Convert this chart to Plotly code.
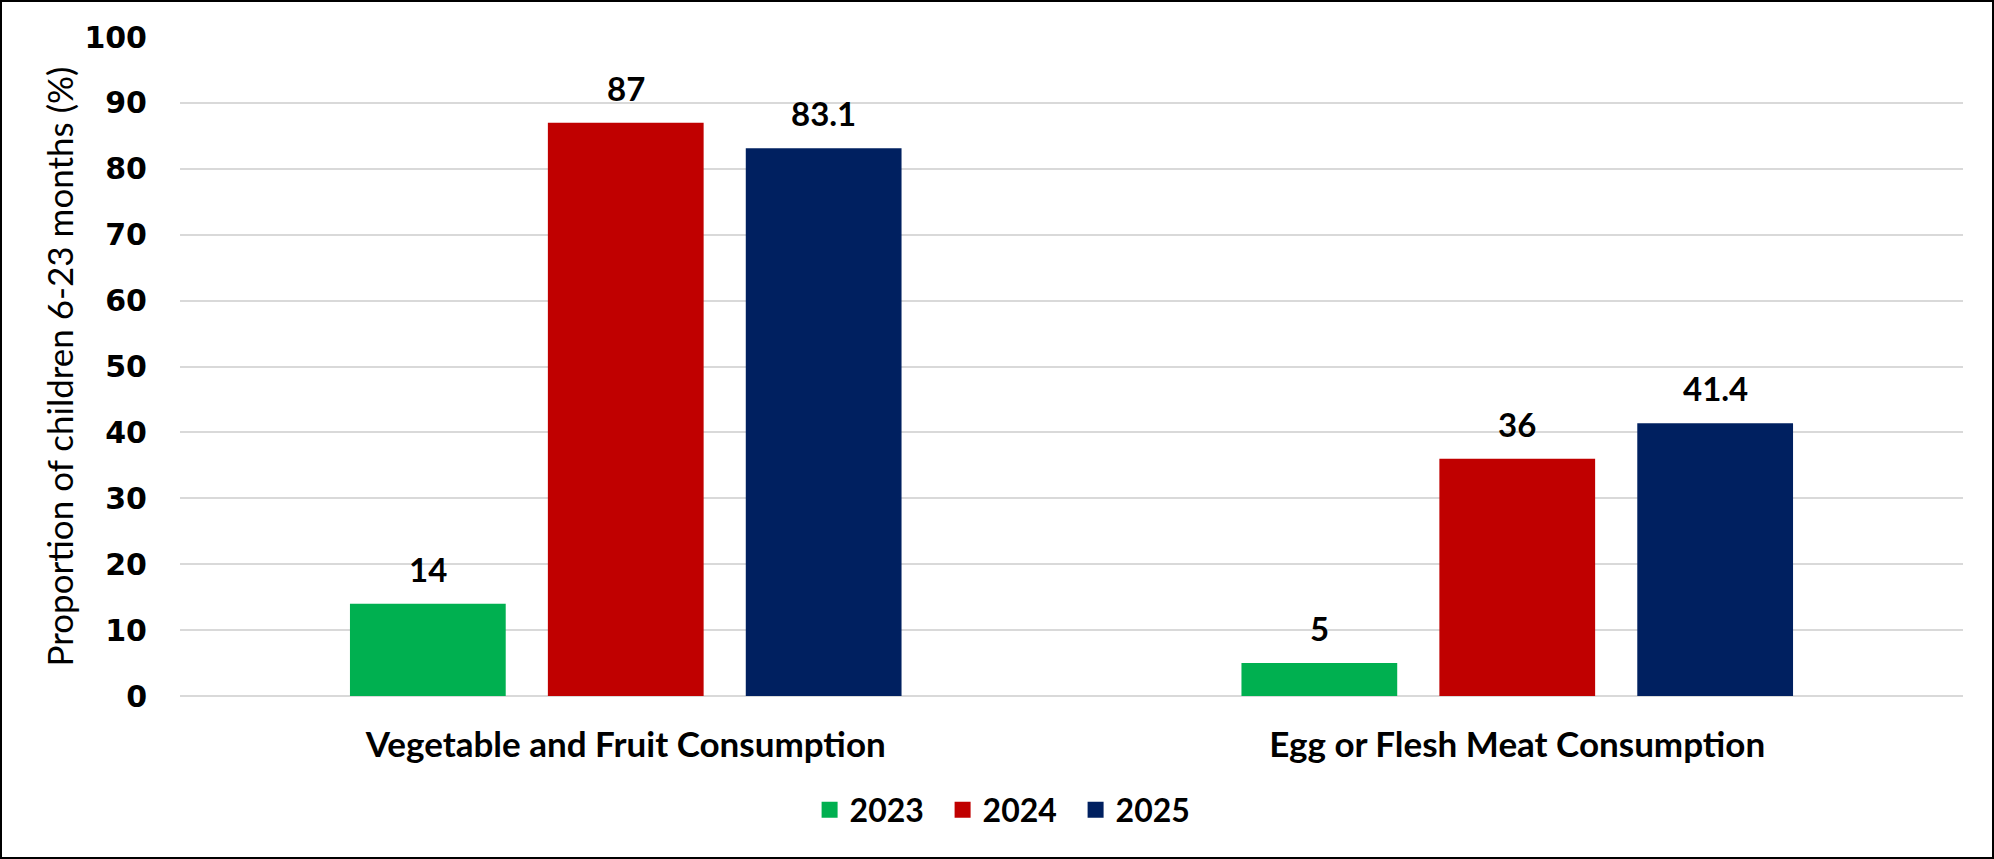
import plotly.graph_objects as go

categories = ["Vegetable and Fruit Consumption", "Egg or Flesh Meat Consumption"]
years = ["2023", "2024", "2025"]
values_2023 = [14, 5]
values_2024 = [87, 36]
values_2025 = [83.1, 41.4]
colors = ["#00B050", "#C00000", "#002060"]
y_ticks = [0, 10, 20, 30, 40, 50, 60, 70, 80, 90, 100]

series = [values_2023, values_2024, values_2025]

W, H = 1994, 859
ML, MR, MT, MB = 180, 31, 37, 163
BARGAP = 0.334
BARGROUPGAP = 0.213

fig = go.Figure()
for name, vals, col in zip(years, series, colors):
    fig.add_trace(go.Bar(
        x=categories, y=vals, name=name, marker=dict(color=col, line=dict(width=0)),
        showlegend=False, hoverinfo="x+y+name",
    ))
# legend entries (bigger square swatches)
for name, col in zip(years, colors):
    fig.add_trace(go.Scatter(
        x=[None], y=[None], mode="markers", name=name,
        marker=dict(symbol="square", size=16, color=col), showlegend=True,
    ))

# data labels
slot = (1 - BARGAP) / len(years)
for si, vals in enumerate(series):
    for ci, v in enumerate(vals):
        fig.add_annotation(
            x=ci + (si - (len(years) - 1) / 2) * slot, y=v, xref="x", yref="y",
            text=f"{v:g}", showarrow=False, yanchor="bottom", yshift=13,
            font=dict(family="Lato", size=33, color="#000000", weight=700),
        )

pw = W - ML - MR
ph = H - MT - MB
fig.add_shape(type="rect", xref="paper", yref="paper",
              x0=(1 - ML) / pw, x1=(W - 1 - ML) / pw,
              y0=-(H - 1 - MT - ph) / ph, y1=(MT - 1) / ph + 1,
              line=dict(color="#000000", width=2), fillcolor="rgba(0,0,0,0)", layer="above")

fig.update_layout(
    width=W, height=H,
    margin=dict(l=ML, r=MR, t=MT, b=MB, pad=0),
    paper_bgcolor="#FFFFFF", plot_bgcolor="#FFFFFF",
    barmode="group", bargap=BARGAP, bargroupgap=BARGROUPGAP,
    font=dict(family="Lato", color="#000000"),
    legend=dict(orientation="h", x=0.465, xanchor="center", y=-0.173, yanchor="middle",
                font=dict(family="Lato", size=32, weight=700, color="#000000"),
                itemsizing="trace", bgcolor="rgba(0,0,0,0)",
                entrywidth=88, entrywidthmode="pixels"),
    showlegend=True,
)
fig.update_xaxes(
    showgrid=False, showline=False, zeroline=False, ticks="",
    tickfont=dict(family="Lato", size=35, weight=700, color="#000000"),
    ticklabelstandoff=25,
)
fig.update_yaxes(
    range=[0, 100], tickvals=y_ticks, ticktext=[str(t) for t in y_ticks],
    showgrid=True, gridcolor="#D9D9D9", gridwidth=1.5,
    zeroline=True, zerolinecolor="#D9D9D9", zerolinewidth=1.5,
    showline=False, ticks="",
    tickfont=dict(family="DejaVu Sans", size=30, weight=700, color="#000000"),
    ticklabelstandoff=32,
    title=dict(text="Proportion of children 6-23 months (%)",
               font=dict(family="Lato", size=35, color="#000000"), standoff=0),
)

fig.write_html(
    "out.html",
    config={"displayModeBar": False},
    post_script="document.body.style.margin='0';document.body.style.overflow='hidden';",
)
